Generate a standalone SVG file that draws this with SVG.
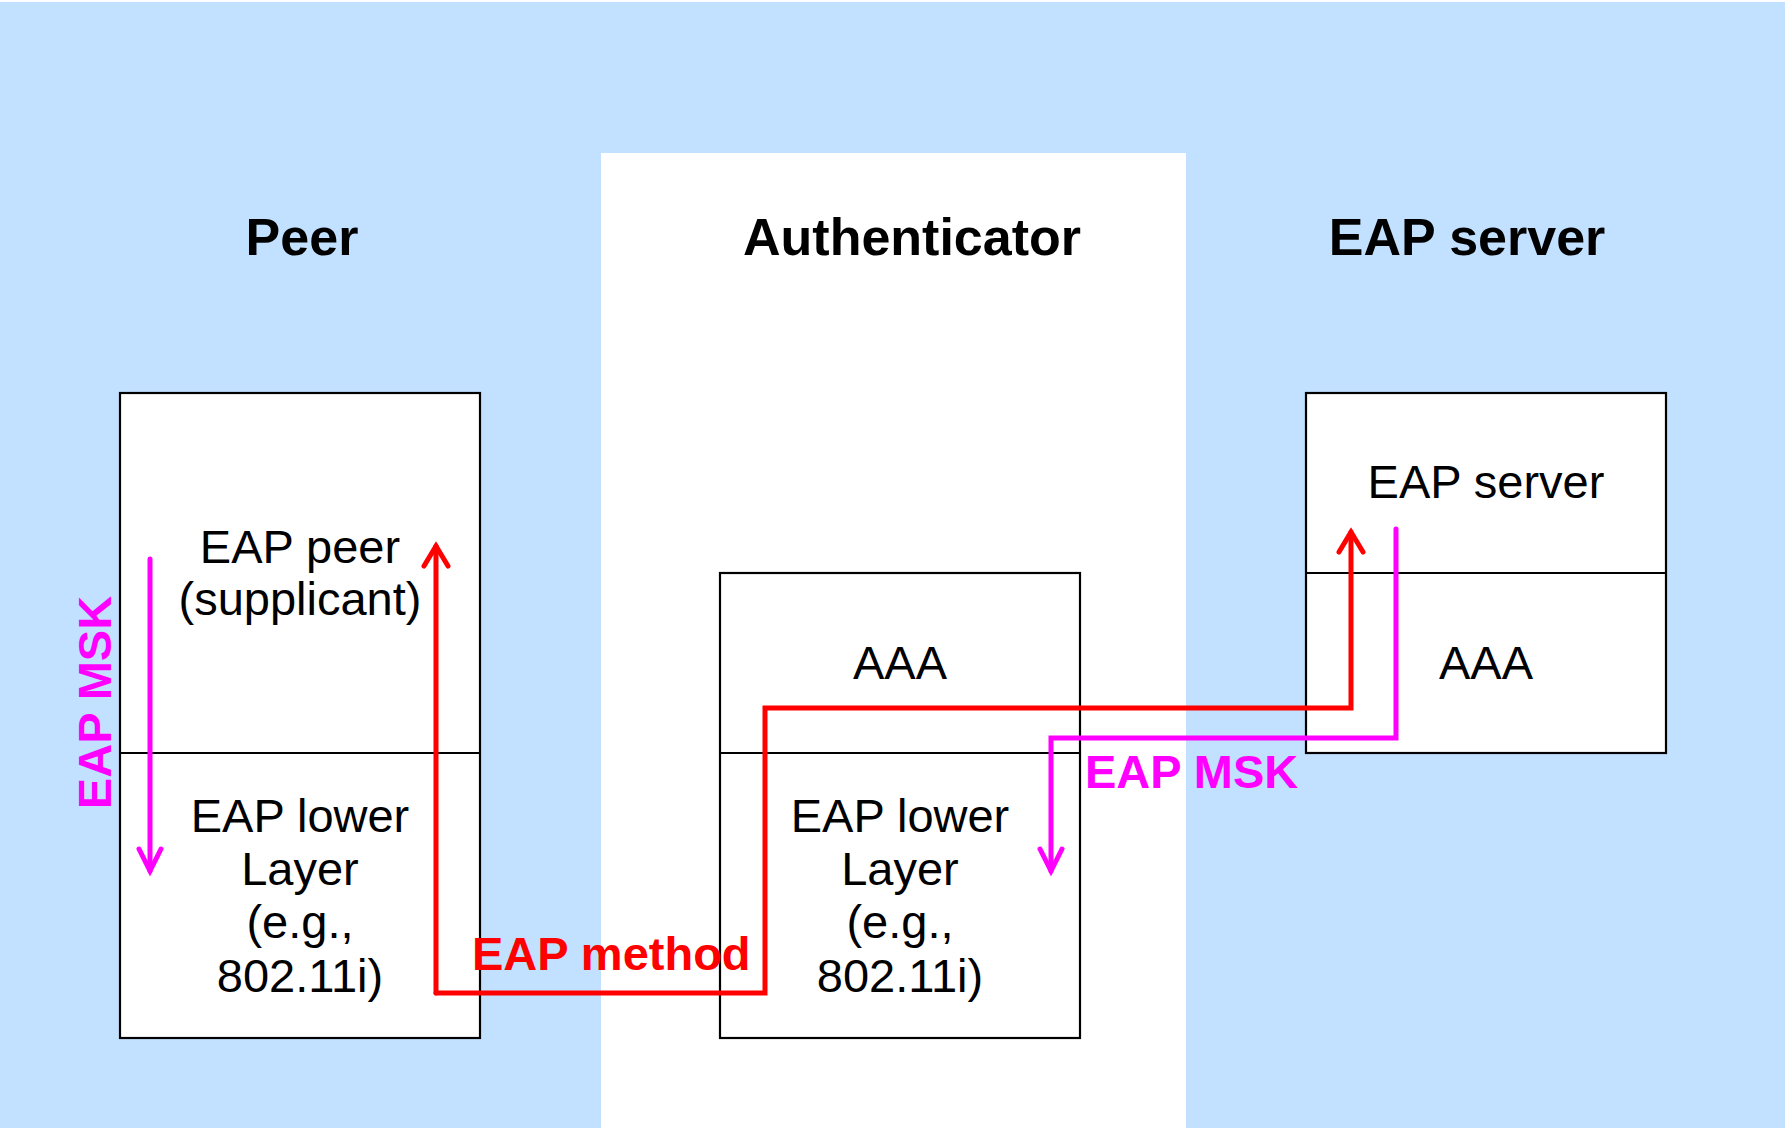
<svg xmlns="http://www.w3.org/2000/svg" width="1785" height="1128" viewBox="0 0 1785 1128">
<style>
.box{fill:#fff;stroke:#000;stroke-width:2.2}
.div{stroke:#000;stroke-width:2.2}
.t{font-family:"Liberation Sans",Arial,sans-serif;font-size:47px;fill:#000;text-anchor:middle}
.h{font-family:"Liberation Sans",Arial,sans-serif;font-size:52px;font-weight:bold;fill:#000;text-anchor:middle}
.lbl{font-family:"Liberation Sans",Arial,sans-serif;font-size:47px;font-weight:bold}
.red{fill:none;stroke:#FF0000;stroke-width:5;stroke-linecap:round;stroke-linejoin:miter}
.mag{fill:none;stroke:#FF00FF;stroke-width:5;stroke-linecap:round;stroke-linejoin:miter}
</style>
<rect x="0" y="0" width="1785" height="1128" fill="#C2E0FF"/>
<rect x="0" y="0" width="1785" height="2" fill="#fff"/>
<rect x="601" y="153" width="585" height="975" fill="#fff"/>
<g id="headings">
<text class="h" x="302" y="255">Peer</text>
<text class="h" x="912" y="255">Authenticator</text>
<text class="h" x="1467" y="255">EAP server</text>
</g>
<g id="peer">
<rect class="box" x="120" y="393" width="360" height="645"/>
<line class="div" x1="120" y1="753" x2="480" y2="753"/>
<text class="t" x="300" y="563">EAP peer</text>
<text class="t" x="300" y="615">(supplicant)</text>
<text class="t" x="300" y="832">EAP lower</text>
<text class="t" x="300" y="885">Layer</text>
<text class="t" x="300" y="938">(e.g.,</text>
<text class="t" x="300" y="992">802.11i)</text>
</g>
<g id="authenticator">
<rect class="box" x="720" y="573" width="360" height="465"/>
<line class="div" x1="720" y1="753" x2="1080" y2="753"/>
<text class="t" x="900" y="679">AAA</text>
<text class="t" x="900" y="832">EAP lower</text>
<text class="t" x="900" y="885">Layer</text>
<text class="t" x="900" y="938">(e.g.,</text>
<text class="t" x="900" y="992">802.11i)</text>
</g>
<g id="eapserver">
<rect class="box" x="1306" y="393" width="360" height="360"/>
<line class="div" x1="1306" y1="573" x2="1666" y2="573"/>
<text class="t" x="1486" y="498">EAP server</text>
<text class="t" x="1486" y="679">AAA</text>
</g>
<g id="connectors">
<polyline class="red" points="436,993 765,993 765,708 1351,708 1351,532"/>
<polyline class="red" points="1339,552 1351,532 1363,552"/>
<polyline class="red" points="436,993 436,546"/>
<polyline class="red" points="424,566 436,546 448,566"/>
<polyline class="mag" points="150,559 150,871"/>
<polyline class="mag" points="139,849 150,871 161,849"/>
<polyline class="mag" points="1396,529 1396,738 1051,738 1051,871"/>
<polyline class="mag" points="1040,849 1051,871 1062,849"/>
</g>
<g id="labels">
<text class="lbl" x="472" y="970" fill="#FF0000">EAP method</text>
<text class="lbl" x="1085" y="788" fill="#FF00FF">EAP MSK</text>
<text class="lbl" x="0" y="0" fill="#FF00FF" text-anchor="middle" transform="translate(111,702.5) rotate(-90)">EAP MSK</text>
</g>
</svg>
